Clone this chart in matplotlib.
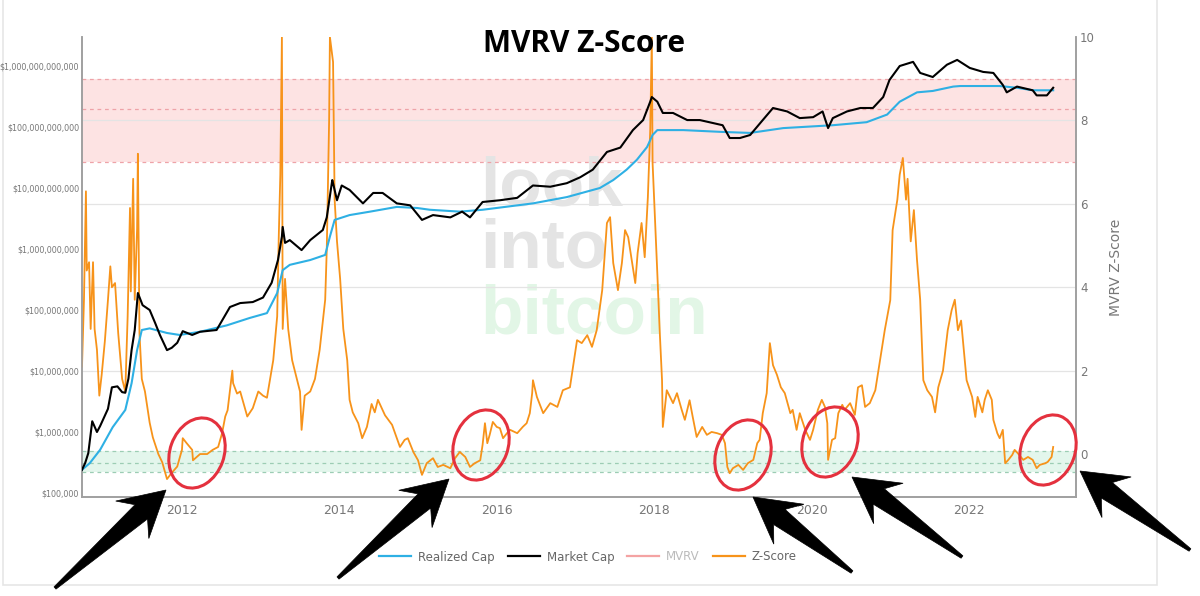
import numpy as np
import matplotlib
matplotlib.use("Agg")
import matplotlib.pyplot as plt
from matplotlib.lines import Line2D
from matplotlib.patches import Ellipse, Polygon, Rectangle
from matplotlib.transforms import Affine2D
from matplotlib.ticker import FixedLocator, FuncFormatter, NullLocator

# ---------------- data ----------------
mc_year = [2010.73, 2010.77, 2010.81, 2010.86, 2010.92, 2010.96, 2011.06, 2011.11, 2011.18, 2011.24,
           2011.28, 2011.32, 2011.36, 2011.40, 2011.44, 2011.50, 2011.59, 2011.66, 2011.72, 2011.81,
           2011.87, 2011.94, 2012.01, 2012.13, 2012.23, 2012.44, 2012.61, 2012.74, 2012.90, 2013.03,
           2013.14, 2013.22, 2013.27, 2013.28, 2013.31, 2013.37, 2013.52, 2013.63, 2013.79, 2013.84,
           2013.91, 2013.92, 2013.97, 2014.03, 2014.13, 2014.30, 2014.43, 2014.55, 2014.73, 2014.90,
           2015.05, 2015.19, 2015.41, 2015.56, 2015.66, 2015.82, 2016.04, 2016.26, 2016.46, 2016.68,
           2016.89, 2017.06, 2017.22, 2017.40, 2017.57, 2017.73, 2017.86, 2017.95, 2017.97, 2018.04,
           2018.11, 2018.24, 2018.42, 2018.58, 2018.75, 2018.87, 2018.96, 2019.09, 2019.22, 2019.38,
           2019.51, 2019.69, 2019.85, 2020.02, 2020.14, 2020.21, 2020.27, 2020.45, 2020.62, 2020.78,
           2020.91, 2020.99, 2021.12, 2021.29, 2021.38, 2021.54, 2021.72, 2021.85, 2022.01, 2022.18,
           2022.31, 2022.43, 2022.48, 2022.61, 2022.81, 2022.86, 2022.99, 2023.07]
market_cap = [2.4e5, 3.1e5, 4.5e5, 1.5e6, 1.0e6, 1.25e6, 2.4e6, 5.4e6, 5.6e6, 4.5e6,
              4.4e6, 7.5e6, 2.2e7, 4.7e7, 1.9e8, 1.2e8, 1.0e8, 6.1e7, 3.9e7, 2.2e7,
              2.4e7, 2.9e7, 4.5e7, 3.9e7, 4.4e7, 4.7e7, 1.12e8, 1.3e8, 1.35e8, 1.6e8,
              2.8e8, 6.6e8, 1.6e9, 2.3e9, 1.26e9, 1.4e9, 9.6e8, 1.4e9, 2.05e9, 3.3e9,
              1.35e10, 1.2e10, 6.3e9, 1.1e10, 9.3e9, 5.6e9, 8.3e9, 8.3e9, 5.6e9, 5.2e9,
              3.0e9, 3.6e9, 3.3e9, 4.1e9, 3.3e9, 5.9e9, 6.3e9, 6.9e9, 1.1e10, 1.05e10,
              1.2e10, 1.5e10, 2.0e10, 3.9e10, 4.6e10, 8.9e10, 1.3e11, 2.6e11, 3.1e11, 2.6e11,
              1.7e11, 1.7e11, 1.3e11, 1.3e11, 1.16e11, 1.07e11, 6.6e10, 6.6e10, 7.4e10, 1.3e11,
              2.05e11, 1.8e11, 1.4e11, 1.45e11, 1.8e11, 9.6e10, 1.4e11, 1.8e11, 2.05e11, 2.05e11,
              3.1e11, 5.9e11, 1.0e12, 1.17e12, 7.7e11, 6.6e11, 1.05e12, 1.26e12, 9.3e11, 8.0e11,
              7.7e11, 4.9e11, 3.7e11, 4.6e11, 4.0e11, 3.3e11, 3.3e11, 4.4e11]

rc_year = [2010.73, 2010.83, 2010.96, 2011.12, 2011.28, 2011.36, 2011.43, 2011.49, 2011.59, 2011.81,
           2011.97, 2012.23, 2012.57, 2012.86, 2013.08, 2013.21, 2013.28, 2013.37, 2013.63, 2013.82,
           2013.88, 2013.94, 2014.13, 2014.39, 2014.73, 2014.99, 2015.15, 2015.53, 2015.82, 2016.46,
           2016.89, 2017.31, 2017.48, 2017.65, 2017.78, 2017.91, 2017.98, 2018.04, 2018.37, 2018.87,
           2019.22, 2019.64, 2020.27, 2020.70, 2020.96, 2021.12, 2021.34, 2021.54, 2021.80, 2021.89,
           2022.39, 2022.61, 2022.81, 2023.07]
realized_cap = [2.4e5, 3.1e5, 5.1e5, 1.2e6, 2.3e6, 6.3e6, 2.2e7, 4.7e7, 5.0e7, 4.2e7,
                3.9e7, 4.4e7, 5.6e7, 7.4e7, 8.9e7, 1.9e8, 4.5e8, 5.5e8, 6.6e8, 8.0e8,
                1.6e9, 3.0e9, 3.6e9, 4.1e9, 4.9e9, 4.7e9, 4.4e9, 4.1e9, 4.4e9, 5.6e9,
                7.1e9, 1.0e10, 1.35e10, 2.0e10, 2.9e10, 4.7e10, 7.4e10, 8.9e10, 8.9e10, 8.3e10,
                8.0e10, 9.6e10, 1.07e11, 1.2e11, 1.6e11, 2.6e11, 3.7e11, 3.9e11, 4.6e11, 4.7e11,
                4.7e11, 4.4e11, 4.0e11, 4.0e11]

z_year = [2010.73, 2010.755, 2010.78, 2010.79, 2010.82, 2010.84, 2010.87, 2010.89, 2010.92, 2010.95,
          2010.98, 2011.02, 2011.06, 2011.09, 2011.11, 2011.15, 2011.19, 2011.24, 2011.28, 2011.31,
          2011.34, 2011.35, 2011.38, 2011.40, 2011.43, 2011.44, 2011.46, 2011.49, 2011.53, 2011.59,
          2011.63, 2011.70, 2011.75, 2011.81, 2011.87, 2011.94, 2012.00, 2012.01, 2012.06, 2012.13,
          2012.14, 2012.23, 2012.32, 2012.39, 2012.46, 2012.51, 2012.55, 2012.58, 2012.64, 2012.65,
          2012.70, 2012.74, 2012.83, 2012.90, 2012.97, 2013.03, 2013.08, 2013.16, 2013.21, 2013.23,
          2013.25, 2013.27, 2013.28, 2013.31, 2013.35, 2013.40, 2013.46, 2013.50, 2013.52, 2013.56,
          2013.63, 2013.69, 2013.75, 2013.82, 2013.84, 2013.87, 2013.88, 2013.92, 2013.94, 2013.97,
          2014.01, 2014.05, 2014.10, 2014.13, 2014.17, 2014.24, 2014.29, 2014.35, 2014.41, 2014.45,
          2014.49, 2014.58, 2014.67, 2014.77, 2014.83, 2014.87, 2014.94, 2015.00, 2015.05, 2015.11,
          2015.19, 2015.25, 2015.32, 2015.41, 2015.47, 2015.53, 2015.60, 2015.66, 2015.72, 2015.79,
          2015.82, 2015.85, 2015.88, 2015.91, 2015.95, 2016.00, 2016.04, 2016.08, 2016.13, 2016.17,
          2016.26, 2016.33, 2016.38, 2016.42, 2016.45, 2016.46, 2016.51, 2016.59, 2016.68, 2016.77,
          2016.84, 2016.93, 2017.02, 2017.08, 2017.15, 2017.21, 2017.27, 2017.34, 2017.40, 2017.44,
          2017.48, 2017.54, 2017.59, 2017.63, 2017.67, 2017.72, 2017.76, 2017.79, 2017.84, 2017.88,
          2017.92, 2017.95, 2017.97, 2017.98, 2018.01, 2018.04, 2018.07, 2018.10, 2018.11, 2018.16,
          2018.24, 2018.29, 2018.35, 2018.39, 2018.45, 2018.49, 2018.54, 2018.61, 2018.67, 2018.73,
          2018.80, 2018.86, 2018.90, 2018.93, 2018.96, 2019.00, 2019.07, 2019.13, 2019.19, 2019.26,
          2019.31, 2019.34, 2019.38, 2019.43, 2019.47, 2019.51, 2019.56, 2019.61, 2019.66, 2019.73,
          2019.76, 2019.81, 2019.85, 2019.92, 2019.98, 2020.02, 2020.08, 2020.13, 2020.17, 2020.20,
          2020.21, 2020.26, 2020.30, 2020.34, 2020.39, 2020.42, 2020.49, 2020.55, 2020.59, 2020.64,
          2020.68, 2020.74, 2020.81, 2020.87, 2020.93, 2021.00, 2021.03, 2021.09, 2021.12, 2021.16,
          2021.20, 2021.22, 2021.26, 2021.30, 2021.34, 2021.38, 2021.40, 2021.42, 2021.47, 2021.53,
          2021.57, 2021.61, 2021.67, 2021.73, 2021.78, 2021.82, 2021.86, 2021.90, 2021.94, 2021.97,
          2022.04, 2022.08, 2022.11, 2022.17, 2022.20, 2022.24, 2022.29, 2022.31, 2022.36, 2022.39,
          2022.43, 2022.46, 2022.50, 2022.55, 2022.58, 2022.62, 2022.69, 2022.75, 2022.81, 2022.86,
          2022.90, 2022.97, 2023.00, 2023.05, 2023.07]
z_score = [2.1, 3.7, 6.3, 4.4, 4.6, 3.0, 4.6, 3.0, 2.5, 1.4,
           1.9, 2.7, 3.7, 4.5, 4.0, 4.1, 2.9, 1.8, 1.5, 3.3,
           5.9, 3.9, 6.6, 3.7, 5.4, 7.2, 2.9, 1.8, 1.5, 0.75,
           0.4, 0.0, -0.2, -0.6, -0.45, -0.3, 0.1, 0.38, 0.26, 0.1,
           -0.15, 0.0, 0.0, 0.1, 0.17, 0.5, 0.9, 1.05, 2.0, 1.7,
           1.45, 1.5, 0.9, 1.1, 1.5, 1.4, 1.35, 2.25, 3.3, 5.2,
           6.7, 10.0, 3.0, 4.2, 3.0, 2.25, 1.8, 1.5, 0.58, 1.4,
           1.5, 1.8, 2.5, 3.7, 4.9, 8.0, 10.0, 9.4, 6.1, 5.1,
           4.2, 3.0, 2.25, 1.3, 1.0, 0.74, 0.38, 0.65, 1.2, 1.0,
           1.3, 0.93, 0.7, 0.17, 0.34, 0.38, 0.05, -0.15, -0.5, -0.22,
           -0.1, -0.31, -0.26, -0.34, -0.1, 0.05, -0.07, -0.31, -0.22, -0.15,
           0.22, 0.74, 0.26, 0.46, 0.77, 0.65, 0.62, 0.38, 0.5, 0.58,
           0.5, 0.65, 0.74, 0.98, 1.46, 1.77, 1.37, 0.98, 1.22, 1.13,
           1.53, 1.6, 2.73, 2.66, 2.85, 2.57, 2.97, 3.93, 5.54, 5.68,
           4.58, 3.93, 4.58, 5.37, 5.2, 4.58, 4.1, 4.82, 5.54, 4.72,
           6.16, 7.77, 10.0, 6.98, 5.68, 4.34, 2.97, 1.77, 0.65, 1.53,
           1.22, 1.46, 1.06, 0.82, 1.29, 0.89, 0.41, 0.65, 0.46, 0.53,
           0.5, 0.46, 0.26, -0.31, -0.46, -0.34, -0.26, -0.38, -0.22, -0.14,
           0.26, 0.34, 0.98, 1.46, 2.66, 2.13, 1.9, 1.6, 1.46, 0.98,
           1.06, 0.58, 0.98, 0.58, 0.34, 0.58, 1.06, 1.3, 1.13, 0.74,
           -0.14, 0.34, 0.38, 0.98, 1.18, 1.06, 1.22, 0.94, 1.6, 1.65,
           1.13, 1.22, 1.53, 2.25, 2.97, 3.69, 5.37, 6.1, 6.7, 7.1,
           6.1, 6.6, 5.1, 5.85, 4.65, 3.7, 2.73, 1.77, 1.53, 1.37,
           1.0, 1.6, 2.0, 2.97, 3.45, 3.7, 2.97, 3.2, 2.37, 1.77,
           1.37, 0.89, 1.37, 1.0, 1.3, 1.53, 1.3, 0.82, 0.5, 0.38,
           0.58, -0.22, -0.14, -0.02, 0.1, 0.02, -0.14, -0.07, -0.14, -0.34,
           -0.26, -0.22, -0.19, -0.07, 0.17]

year_ticks = [2012, 2014, 2016, 2018, 2020, 2022]
cap_ticks = [1e5, 1e6, 1e7, 1e8, 1e9, 1e10, 1e11, 1e12]
z_ticks = [0, 2, 4, 6, 8, 10]
red_band = (7.0, 9.0)
red_lines = [7.0, 8.27, 9.0]
green_band = (-0.43, 0.07)
green_lines = [-0.43, -0.22, 0.07]

# ---------------- figure ----------------
W, H = 1200, 596
fig = plt.figure(figsize=(W / 100, H / 100), dpi=100)
fig.patch.set_facecolor("white")
pxT = Affine2D().scale(1, -1).translate(0, H)

ax2 = fig.add_axes([82 / W, 1 - 497 / H, (1076 - 82) / W, (497 - 37) / H])
ax = ax2.twinx()
ax.yaxis.set_ticks_position("left")
ax.yaxis.set_label_position("left")
ax2.yaxis.set_ticks_position("right")
ax2.yaxis.set_label_position("right")
ax.set_zorder(ax2.get_zorder() + 1)
ax.patch.set_visible(False)

orange = "#f7931a"
blue = "#2eb0e4"
tick_col = "#777777"

# z-score axis (right)
ax2.set_xlim(2010.73, 2023.36)
ax2.set_ylim(-1.03, 10.0)
ax2.axhspan(*red_band, color="#fde3e3", zorder=0.3, lw=0)
ax2.axhspan(*green_band, color="#e3f6ec", zorder=0.3, lw=0)
for v in red_lines:
    ax2.axhline(v, color="#eea3a8", lw=0.9, ls=(0, (3, 3)), zorder=0.5)
for v in green_lines:
    ax2.axhline(v, color="#9ccdb4", lw=0.9, ls=(0, (3, 3)), zorder=0.5)
for v in [2, 4, 6, 8]:
    ax2.axhline(v, color="#e4e4e4", lw=0.9, zorder=0.4)

ax2.plot(z_year, z_score, color=orange, lw=1.3, zorder=3)

ax2.yaxis.set_major_locator(FixedLocator(z_ticks))
ax2.yaxis.set_minor_locator(NullLocator())
ax2.tick_params(axis="y", length=0, pad=3, labelsize=8.5, colors=tick_col)
ax2.xaxis.set_major_locator(FixedLocator(year_ticks))
ax2.xaxis.set_major_formatter(FuncFormatter(lambda v, p: f"{int(round(v))}"))
ax2.tick_params(axis="x", length=0, pad=5, labelsize=9, colors=tick_col)

# cap axis (left)
ax.set_yscale("log")
ax.set_ylim(8.6e4, 2.99e12)
ax.set_xlim(2010.73, 2023.36)
ax.plot(rc_year, realized_cap, color=blue, lw=1.5, zorder=3)
ax.plot(mc_year, market_cap, color="black", lw=1.5, zorder=4)
ax.yaxis.set_major_locator(FixedLocator(cap_ticks))
ax.yaxis.set_minor_locator(NullLocator())
ax.yaxis.set_major_formatter(FuncFormatter(lambda v, p: "${:,.0f}".format(v)))
ax.tick_params(axis="y", length=0, pad=2, labelsize=5.8, colors=tick_col)

for a in (ax, ax2):
    a.spines["top"].set_visible(False)
    for s in ("left", "right", "bottom"):
        a.spines[s].set_color("#a0a0a0")
        a.spines[s].set_linewidth(1.2)

# watermark
wm_font = dict(family="Liberation Sans", weight="bold", fontsize=50, ha="left", va="baseline",
               transform=fig.transFigure, zorder=0.35)
ax2.text(480 / W, 1 - 205 / H, "look", color="#e4e4e4", **wm_font)
ax2.text(480 / W, 1 - 267 / H, "into", color="#e4e4e4", **wm_font)
ax2.text(480 / W, 1 - 333 / H, "bitcoin", color="#e2f6e6", **wm_font)

# title and axis label
fig.text(584 / W, 1 - 44 / H, "MVRV Z-Score", ha="center", va="center",
         fontsize=21.5, fontweight="bold", family="Open Sans", color="black")
fig.text(1116 / W, 1 - 267 / H, "MVRV Z-Score", rotation=90, ha="center", va="center",
         fontsize=10, color=tick_col)

# legend
handles = [Line2D([], [], color=blue, lw=1.6), Line2D([], [], color="black", lw=1.6),
           Line2D([], [], color="#f4a3a3", lw=1.6), Line2D([], [], color=orange, lw=1.6)]
labels = ["Realized Cap", "Market Cap", "MVRV", "Z-Score"]
leg = fig.legend(handles, labels, loc="center", bbox_to_anchor=(588 / W, 1 - 557 / H), ncol=4,
                 frameon=False, fontsize=8.5, handlelength=2.7, handletextpad=0.6, columnspacing=1.1)
for t, c in zip(leg.get_texts(), ["#666666", "#666666", "#bbbbbb", "#666666"]):
    t.set_color(c)

# outer panel border
fig.add_artist(Rectangle((3, -5), 1154, 590, transform=pxT, fill=False,
                         edgecolor="#e6e6e6", lw=1.2, zorder=0))

# red ellipses
for cx, cy in [(197, 453), (481, 445), (743, 455), (830, 442), (1048, 450)]:
    fig.add_artist(Ellipse((cx, cy), 72, 54, angle=-70, transform=pxT, fill=False,
                           edgecolor="#e4313e", lw=2.2, zorder=10))


def arrow_poly(tail, tip, L=45, hw=25, neck=33, sw=9.5, tw=1.5):
    T = np.array(tail, float)
    P = np.array(tip, float)
    d = P - T
    u = d / np.hypot(*d)
    n = np.array([-u[1], u[0]])
    return [T + n * tw, P - u * neck + n * sw, P - u * L + n * hw, P,
            P - u * L - n * hw, P - u * neck - n * sw, T - n * tw]


for tail, tip in [((55, 588), (166, 490)), ((338, 578), (449, 479)), ((852, 572), (753, 497)),
                  ((962, 557), (852, 477)), ((1190, 550), (1080, 471))]:
    fig.add_artist(Polygon(arrow_poly(tail, tip), closed=True, transform=pxT,
                           facecolor="black", edgecolor="black", lw=0.5, zorder=11))

fig.savefig("out.png", dpi=100)
